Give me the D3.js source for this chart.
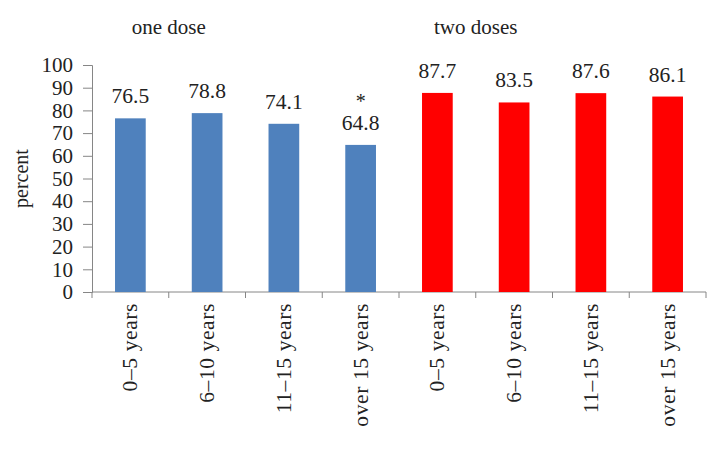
<!DOCTYPE html>
<html>
<head>
<meta charset="utf-8">
<script src="https://cdn.jsdelivr.net/npm/d3@7"></script>
<style>
  body { margin: 0; background: #fff; }
  text { font-family: "Liberation Serif", "DejaVu Serif", serif; fill: #222; }
</style>
</head>
<body>
<svg id="chart" width="726" height="451"></svg>
<script>
// данные
const ageGroups = ["0–5 years", "6–10 years", "11–15 years", "over 15 years"];
const doseGroups = ["one dose", "two doses"];
const oneDose = [76.5, 78.8, 74.1, 64.8];
const twoDoses = [87.7, 83.5, 87.6, 86.1];
const marks = ["", "", "", "*", "", "", "", ""];
const yTicks = [0, 10, 20, 30, 40, 50, 60, 70, 80, 90, 100];
const colors = ["#4F81BD", "#FF0000"];

const svg = d3.select("#chart");
const plotLeft = 92, plotRight = 706, plotTop = 65, plotBottom = 292;

const rows = [];
doseGroups.forEach((g, gi) => {
  const vals = gi === 0 ? oneDose : twoDoses;
  ageGroups.forEach((a, ai) => {
    rows.push({ key: gi * 4 + ai, group: gi, age: a, value: vals[ai] });
  });
});

const x = d3.scaleBand()
  .domain(rows.map(d => d.key))
  .range([plotLeft, plotRight])
  .paddingInner(0.6)
  .paddingOuter(0.3);

const y = d3.scaleLinear().domain([0, 100]).range([plotBottom, plotTop]);

// ось Y
const yAxis = svg.append("g")
  .attr("transform", `translate(${plotLeft},0)`)
  .call(d3.axisLeft(y).tickValues(yTicks).tickSize(9).tickPadding(10));
yAxis.select(".domain").attr("stroke", "#868686");
yAxis.selectAll(".tick line").attr("stroke", "#868686");
yAxis.selectAll(".tick text")
  .attr("font-size", "21px")
  .attr("font-family", "Liberation Serif")
  .attr("fill", "#222");

// ось X (граничные риски)
const step = x.step();
const bounds = rows.map(d => x(d.key) - step * x.paddingInner() / 2);
bounds.push(plotRight);
svg.append("line")
  .attr("x1", plotLeft).attr("x2", plotRight)
  .attr("y1", plotBottom).attr("y2", plotBottom)
  .attr("stroke", "#868686");
svg.selectAll(".xtick")
  .data(bounds)
  .enter().append("line")
  .attr("x1", d => d).attr("x2", d => d)
  .attr("y1", plotBottom).attr("y2", plotBottom + 6)
  .attr("stroke", "#868686");

// столбцы
svg.selectAll(".bar")
  .data(rows)
  .enter().append("rect")
  .attr("x", d => x(d.key))
  .attr("y", d => y(d.value))
  .attr("width", x.bandwidth())
  .attr("height", d => plotBottom - y(d.value))
  .attr("fill", d => colors[d.group]);

// подписи значений
svg.selectAll(".val")
  .data(rows)
  .enter().append("text")
  .attr("x", d => x(d.key) + x.bandwidth() / 2)
  .attr("y", d => y(d.value) - 15)
  .attr("text-anchor", "middle")
  .attr("font-size", "21.5px")
  .text(d => d.value.toFixed(1));

// звёздочка
svg.selectAll(".mark")
  .data(rows.filter(d => marks[d.key]))
  .enter().append("text")
  .attr("x", d => x(d.key) + x.bandwidth() / 2)
  .attr("y", d => y(d.value) - 37)
  .attr("text-anchor", "middle")
  .attr("font-size", "20px")
  .text(d => marks[d.key]);

// подписи категорий (повёрнутые)
svg.selectAll(".cat")
  .data(rows)
  .enter().append("text")
  .attr("transform", d => `translate(${x(d.key) + x.bandwidth() / 2 + 7},${plotBottom + 11}) rotate(-90)`)
  .attr("text-anchor", "end")
  .attr("font-size", "21.5px")
  .attr("letter-spacing", "0.6px")
  .text(d => d.age);

// заголовки групп
svg.selectAll(".grp")
  .data(doseGroups)
  .enter().append("text")
  .attr("x", (d, i) => bounds[i * 4 + 1])
  .attr("y", 34)
  .attr("text-anchor", "middle")
  .attr("font-size", "21px")
  .text(d => d);

// подпись оси Y
svg.append("text")
  .attr("transform", `translate(28,${(plotTop + plotBottom) / 2}) rotate(-90)`)
  .attr("text-anchor", "middle")
  .attr("font-size", "20px")
  .text("percent");
</script>
</body>
</html>
